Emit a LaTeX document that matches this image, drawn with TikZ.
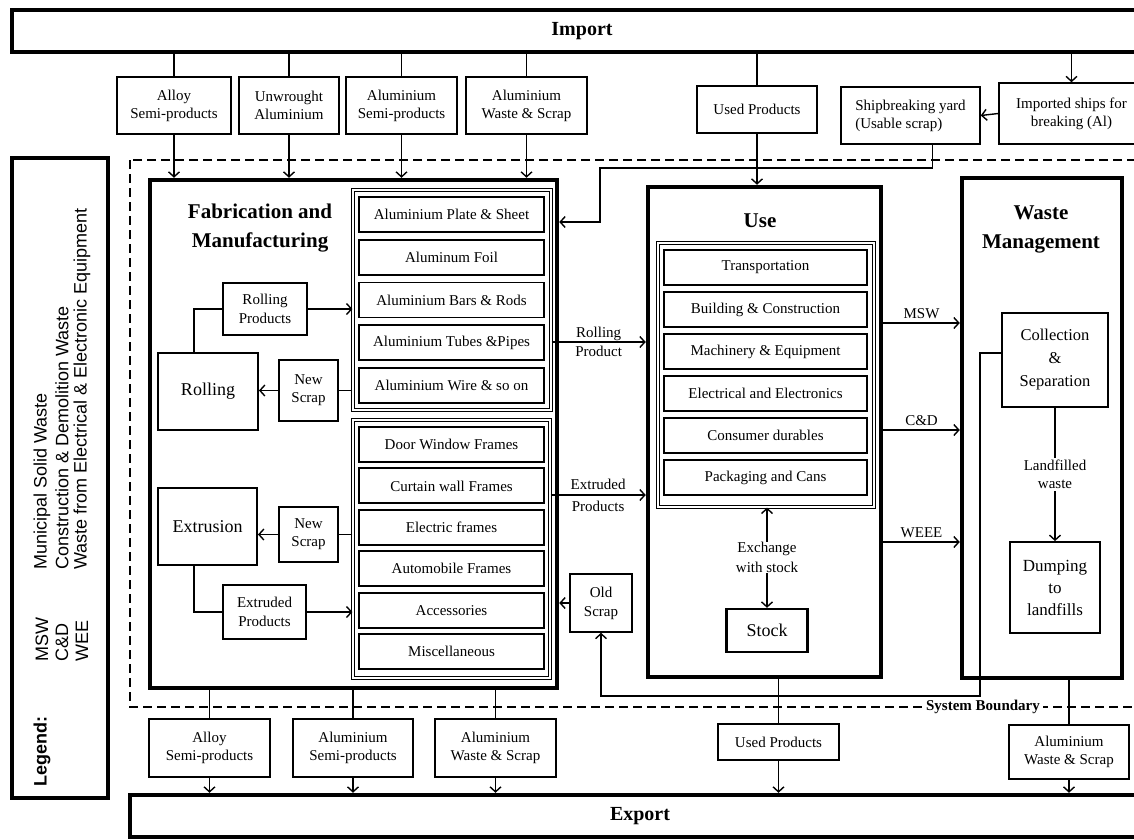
\documentclass[tikz,border=0pt]{standalone}
\usepackage{fontspec}
\setmainfont{Liberation Serif}
\setsansfont{Liberation Sans}
\usetikzlibrary{positioning,arrows.meta}

\begin{document}
\begin{tikzpicture}[x=1pt, y=-1pt,
  lbl/.style={font=\fontsize{15}{18}\selectfont, align=center, inner sep=0pt},
  box/.style={draw, line width=1.5pt, lbl},
  item/.style={draw, line width=1.9pt, lbl, minimum height=35pt},
  stage/.style={draw, line width=4.5pt, inner sep=0pt},
  bartxt/.style={font=\bfseries\fontsize{20}{24}\selectfont},
  grp/.style={draw, double, line width=1.1pt, double distance=2.2pt, inner sep=0pt},
  ttl/.style={font=\bfseries\fontsize{21}{29}\selectfont, align=center, inner sep=0pt},
  bigtxt/.style={font=\fontsize{18}{22}\selectfont},
  leg/.style={font=\sffamily\fontsize{18}{20}\selectfont, rotate=90, anchor=west, inner sep=0pt},
  ln/.style={line width=1.4pt},
  arr/.style={-{Straight Barb[length=5pt,width=11pt]}, line width=1.4pt},
  dblarr/.style={{Straight Barb[length=5pt,width=11pt]}-{Straight Barb[length=5pt,width=11pt]}, line width=1.4pt}]

\useasboundingbox (0,0) rectangle (1134,839);

% system boundary
\draw[line width=2.2pt, dash pattern=on 9pt off 5pt] (130,160) rectangle (1150,707);
\node[font=\bfseries\fontsize{15}{17}\selectfont, fill=white, inner sep=3pt] (sysB) at (983,707) {System Boundary};

% import and export bars
\node[stage, bartxt, minimum width=1140pt, minimum height=42pt] (import) at (582,31) {Import};
\node[stage, bartxt, minimum width=1020pt, minimum height=42pt] (export) at (640,816) {Export};

% legend
\node[stage, minimum width=96pt, minimum height=640pt] (legend) at (60,478) {};
\node[leg, font=\sffamily\bfseries\fontsize{18}{20}\selectfont] (legT) at (42,787) {Legend:};
\node[leg] (legMSW) at (42,662) {MSW};
\node[leg] (legCD) at (62,662) {C\&D};
\node[leg] (legWEE) at (82,662) {WEE};
\node[leg] (legMSWt) at (42,570) {Municipal Solid Waste};
\node[leg] (legCDt) at (62,570) {Construction \& Demolition Waste};
\node[leg] (legWEEt) at (82,570) {Waste from Electrical \& Electronic Equipment};

% imports
\node[box, minimum width=114pt, minimum height=57pt] (impAlloy) at (174,105.5) {Alloy\\Semi-products};
\node[box, minimum width=100pt, minimum height=57pt] (impUnwr) at (289,105.5) {Unwrought\\Aluminium};
\node[box, minimum width=111pt, minimum height=57pt] (impSemi) at (401.5,105.5) {Aluminium\\Semi-products};
\node[box, minimum width=121pt, minimum height=57pt] (impScrap) at (526.5,105.5) {Aluminium\\Waste \& Scrap};
\node[box, minimum width=120pt, minimum height=47pt] (impUsed) at (757,109.5) {Used Products};
\node[box, align=left, minimum width=139pt, minimum height=57pt] (shipYard) at (910.5,115.5) {Shipbreaking yard\\(Usable scrap)};
\node[box, minimum width=145pt, minimum height=61pt] (shipImp) at (1071.5,113.5) {Imported ships for\\breaking (Al)};

% fabrication and manufacturing
\node[stage, minimum width=407pt, minimum height=508pt] (fab) at (353.5,434) {};
\node[ttl] (fabT) at (260,228) {Fabrication and\\Manufacturing};
\node[grp, minimum width=198pt, minimum height=220pt] (grpRoll) at (452,300) {};
\foreach \txt [count=\i] in {Aluminium Plate \& Sheet, Aluminum Foil, Aluminium Bars \& Rods,
    Aluminium Tubes \&Pipes, Aluminium Wire \& so on}
  \node[item, minimum width=185pt] (roll\i) at (451.5,{214.5+42.75*(\i-1)}) {\txt};
\node[grp, minimum width=197pt, minimum height=258pt] (grpExt) at (451.5,549) {};
\foreach \txt [count=\i] in {Door Window Frames, Curtain wall Frames, Electric frames,
    Automobile Frames, Accessories, Miscellaneous}
  \node[item, minimum width=185pt] (ext\i) at (451.5,{444.5+41.4*(\i-1)}) {\txt};

\node[box, minimum width=84pt, minimum height=52pt, font=\fontsize{15}{19}\selectfont] (rollProd) at (265,309) {Rolling\\Products};
\node[box, bigtxt, line width=1.9pt, minimum width=100pt, minimum height=77pt] (rolling) at (208,391.5) {Rolling};
\node[box, minimum width=59pt, minimum height=61pt] (newScrapR) at (308.5,390.5) {New\\Scrap};
\node[box, bigtxt, line width=1.9pt, minimum width=99pt, minimum height=77pt] (extrusion) at (207.5,526.5) {Extrusion};
\node[box, minimum width=59pt, minimum height=55pt] (newScrapE) at (308.5,534.5) {New\\Scrap};
\node[box, minimum width=83pt, minimum height=54pt, font=\fontsize{15}{19}\selectfont] (extProd) at (264.5,612) {Extruded\\Products};
\node[box, minimum width=62pt, minimum height=58pt, font=\fontsize{15}{19}\selectfont] (oldScrap) at (601,603) {Old\\Scrap};

% use
\node[stage, minimum width=233pt, minimum height=490pt] (use) at (764.5,432) {};
\node[ttl] (useT) at (760,221) {Use};
\node[grp, minimum width=216pt, minimum height=264pt] (grpUse) at (766,375) {};
\foreach \txt [count=\i] in {Transportation, Building \& Construction, Machinery \& Equipment,
    Electrical and Electronics, Consumer durables, Packaging and Cans}
  \node[item, minimum width=203pt] (use\i) at (765.5,{267.5+42*(\i-1)}) {\txt};
\node[box, bigtxt, line width=2.4pt, minimum width=81pt, minimum height=43pt] (stock) at (767,630.5) {Stock};

% waste management
\node[stage, minimum width=160pt, minimum height=500pt] (wm) at (1042,428) {};
\node[ttl] (wmT) at (1041,229) {Waste\\Management};
\node[box, line width=1.9pt, minimum width=106pt, minimum height=94pt, font=\fontsize{16.5}{23}\selectfont] (coll) at (1055,360) {Collection\\\&\\Separation};
\node[box, line width=1.9pt, minimum width=90pt, minimum height=91pt, font=\fontsize{17}{22}\selectfont] (dump) at (1055,587.5) {Dumping\\to\\landfills};

% exports
\node[box, minimum width=121pt, minimum height=58pt] (expAlloy) at (209.5,748) {Alloy\\Semi-products};
\node[box, minimum width=120pt, minimum height=58pt] (expSemi) at (353,748) {Aluminium\\Semi-products};
\node[box, minimum width=121pt, minimum height=58pt] (expScrap) at (495.5,748) {Aluminium\\Waste \& Scrap};
\node[box, minimum width=121pt, minimum height=36pt] (expUsed) at (778.5,742) {Used Products};
\node[box, minimum width=120pt, minimum height=54pt] (expWaste) at (1069,752) {Aluminium\\Waste \& Scrap};

% import flows
\foreach \n in {impAlloy, impUnwr, impSemi, impScrap, impUsed}
  \draw[ln] (\n.north |- import.south) -- (\n.north);
\foreach \n in {impAlloy, impUnwr, impSemi, impScrap}
  \draw[arr] (\n.south) -- (\n.south |- fab.north);
\draw[arr] (impUsed.south) -- (impUsed.south |- use.north);
\draw[arr] (shipImp.north |- import.south) -- (shipImp.north);
\draw[arr] (shipImp.west) -- (shipYard.east);
\coordinate (yardOut) at ([xshift=22pt]shipYard.south);
\coordinate (yardTurn) at (600,168);
\coordinate (yardIn) at (600,222);
\draw[arr] (yardOut) |- (yardTurn) -- (yardIn) -- (yardIn -| fab.east);

% rolling loop
\draw[ln] ([xshift=-14pt]rolling.north) |- (rollProd.west);
\draw[arr] (rollProd.east) -- (rollProd.east -| grpRoll.west);
\draw[ln] (newScrapR.east -| grpRoll.west) -- (newScrapR.east);
\draw[arr] (newScrapR.west) -- (newScrapR.west -| rolling.east);

% extrusion loop
\draw[ln] ([xshift=-13.5pt]extrusion.south) |- (extProd.west);
\draw[arr] (extProd.east) -- (extProd.east -| grpExt.west);
\draw[ln] (newScrapE.east -| grpExt.west) -- (newScrapE.east);
\draw[arr] (newScrapE.west) -- (newScrapE.west -| extrusion.east);
\draw[arr] (oldScrap.west) -- (oldScrap.west -| fab.east);

% products to use
\draw[arr] ([yshift=-42pt]grpRoll.east) -- ([yshift=-42pt]grpRoll.east -| use.west)
  node[midway, lbl, font=\fontsize{15}{19}\selectfont] (rollLbl) {Rolling\\Product};
\draw[arr] ([yshift=54pt]grpExt.east) -- ([yshift=54pt]grpExt.east -| use.west)
  node[midway, lbl, font=\fontsize{15}{22}\selectfont] (extLbl) {Extruded\\Products};
\draw[dblarr] (stock.north |- grpUse.south) -- (stock.north)
  node[midway, lbl, fill=white, font=\fontsize{15}{20}\selectfont] (exchLbl) {Exchange\\with stock};

% waste flows
\foreach \dy/\t/\nm in {109/MSW/msw, 2/C\&D/cd, -110/WEEE/weee}
  \draw[arr] ([yshift=\dy pt]use.east) -- ([yshift=\dy pt]use.east -| wm.west)
    node[midway, above=4pt, lbl] (\nm Lbl) {\t};
\draw[arr] (coll.south) -- (dump.north)
  node[midway, lbl, fill=white, inner sep=2pt] (landLbl) {Landfilled\\waste};
\coordinate (backTurn) at (980,696);
\draw[arr] ([yshift=7pt]coll.west) -| (backTurn) -| (oldScrap.south);

% export flows
\foreach \n in {expAlloy, expSemi, expScrap}
  \draw[ln] (\n.north |- fab.south) -- (\n.north);
\draw[ln] (expUsed.north |- use.south) -- (expUsed.north);
\draw[ln] (expWaste.north |- wm.south) -- (expWaste.north);
\foreach \n in {expAlloy, expSemi, expScrap, expUsed, expWaste}
  \draw[arr] (\n.south) -- (\n.south |- export.north);
\end{tikzpicture}
\end{document}
